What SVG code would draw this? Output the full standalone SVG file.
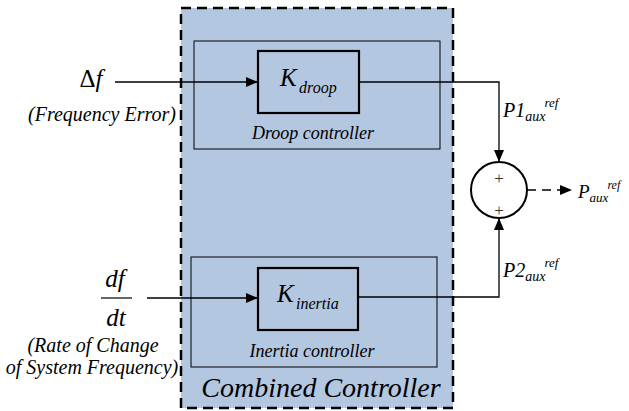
<svg xmlns="http://www.w3.org/2000/svg" width="629" height="411" viewBox="0 0 629 411">
  <style>
    .wire { fill: none; stroke: #000; stroke-width: 1.3; }
    .inner { fill: none; stroke: #000; stroke-width: 1; }
    .gain { fill: none; stroke: #000; stroke-width: 2.2; }
  </style>
  <defs>
    <marker id="arrowBig" viewBox="0 0 12 10" refX="12" refY="5" markerWidth="12" markerHeight="10" markerUnits="userSpaceOnUse" orient="auto">
      <path d="M0,0 L12,5 L0,10 z" fill="#000"/>
    </marker>
  </defs>

  <g font-family="'Liberation Serif', 'DejaVu Serif', 'Noto Serif', serif" font-style="italic" fill="#000">
  <!-- combined controller frame -->
  <g id="combined">
    <rect x="181" y="8" width="272" height="400" fill="#b4c7e0" stroke="#000" stroke-width="2.5" stroke-dasharray="10,6"/>
    <text x="321" y="397" font-size="28" text-anchor="middle">Combined Controller</text>
  </g>

  <!-- droop branch -->
  <g id="droop">
    <rect class="inner" x="194" y="41" width="246" height="108"/>
    <rect class="gain" x="258" y="51" width="101" height="62"/>
    <text x="280" y="86" font-size="25">K</text>
    <text x="299" y="93" font-size="16">droop</text>
    <text x="313" y="139" font-size="18" text-anchor="middle">Droop controller</text>
  </g>

  <!-- inertia branch -->
  <g id="inertia">
    <rect class="inner" x="191" y="257" width="246" height="110"/>
    <rect class="gain" x="258" y="268" width="100" height="62"/>
    <text x="277" y="302" font-size="25">K</text>
    <text x="296" y="309" font-size="16">inertia</text>
    <text x="312" y="357" font-size="18" text-anchor="middle">Inertia controller</text>
  </g>

  <!-- summing junction -->
  <g id="sum">
    <circle cx="499" cy="190" r="28" fill="#fff" stroke="#000" stroke-width="2"/>
    <text x="499" y="184" font-size="17" font-style="normal" fill="#333" text-anchor="middle">+</text>
    <text x="499" y="216" font-size="17" font-style="normal" fill="#333" text-anchor="middle">+</text>
  </g>

  <!-- inputs -->
  <g id="input-df">
    <text x="91" y="87" font-size="25" text-anchor="middle"><tspan font-style="normal">Δ</tspan>f</text>
    <text x="102" y="121" font-size="20" text-anchor="middle">(Frequency Error)</text>
  </g>
  <g id="input-dfdt">
    <text x="115" y="287" font-size="25" text-anchor="middle">df</text>
    <line x1="101" y1="298" x2="132" y2="298" stroke="#000" stroke-width="1.2"/>
    <text x="116" y="326" font-size="25" text-anchor="middle">dt</text>
    <text x="93" y="352" font-size="20" text-anchor="middle">(Rate of Change</text>
    <text x="92" y="374" font-size="20" text-anchor="middle">of System Frequency)</text>
  </g>

  <!-- output label -->
  <g id="output">
    <text x="578" y="198" font-size="19">P<tspan font-size="13" dy="4">aux</tspan><tspan font-size="12" dx="-1" dy="-13">ref</tspan></text>
  </g>

  <!-- signal lines -->
  <g id="connectors">
    <line class="wire" x1="115" y1="82" x2="258" y2="82" marker-end="url(#arrowBig)"/>
    <line class="wire" x1="147" y1="298" x2="258" y2="298" marker-end="url(#arrowBig)"/>
    <polyline class="wire" points="359,82 499,82 499,162" marker-end="url(#arrowBig)"/>
    <polyline class="wire" points="358,297 499,297 499,218" marker-end="url(#arrowBig)"/>
    <line class="wire" x1="527" y1="190" x2="572" y2="190" stroke-dasharray="9,6" marker-end="url(#arrowBig)"/>
    <text x="503" y="117" font-size="20">P1<tspan font-size="14" dy="4">aux</tspan><tspan font-size="13" dx="-1" dy="-14">ref</tspan></text>
    <text x="503" y="277" font-size="20">P2<tspan font-size="14" dy="4">aux</tspan><tspan font-size="13" dx="-1" dy="-14">ref</tspan></text>
  </g>
  </g>
</svg>
